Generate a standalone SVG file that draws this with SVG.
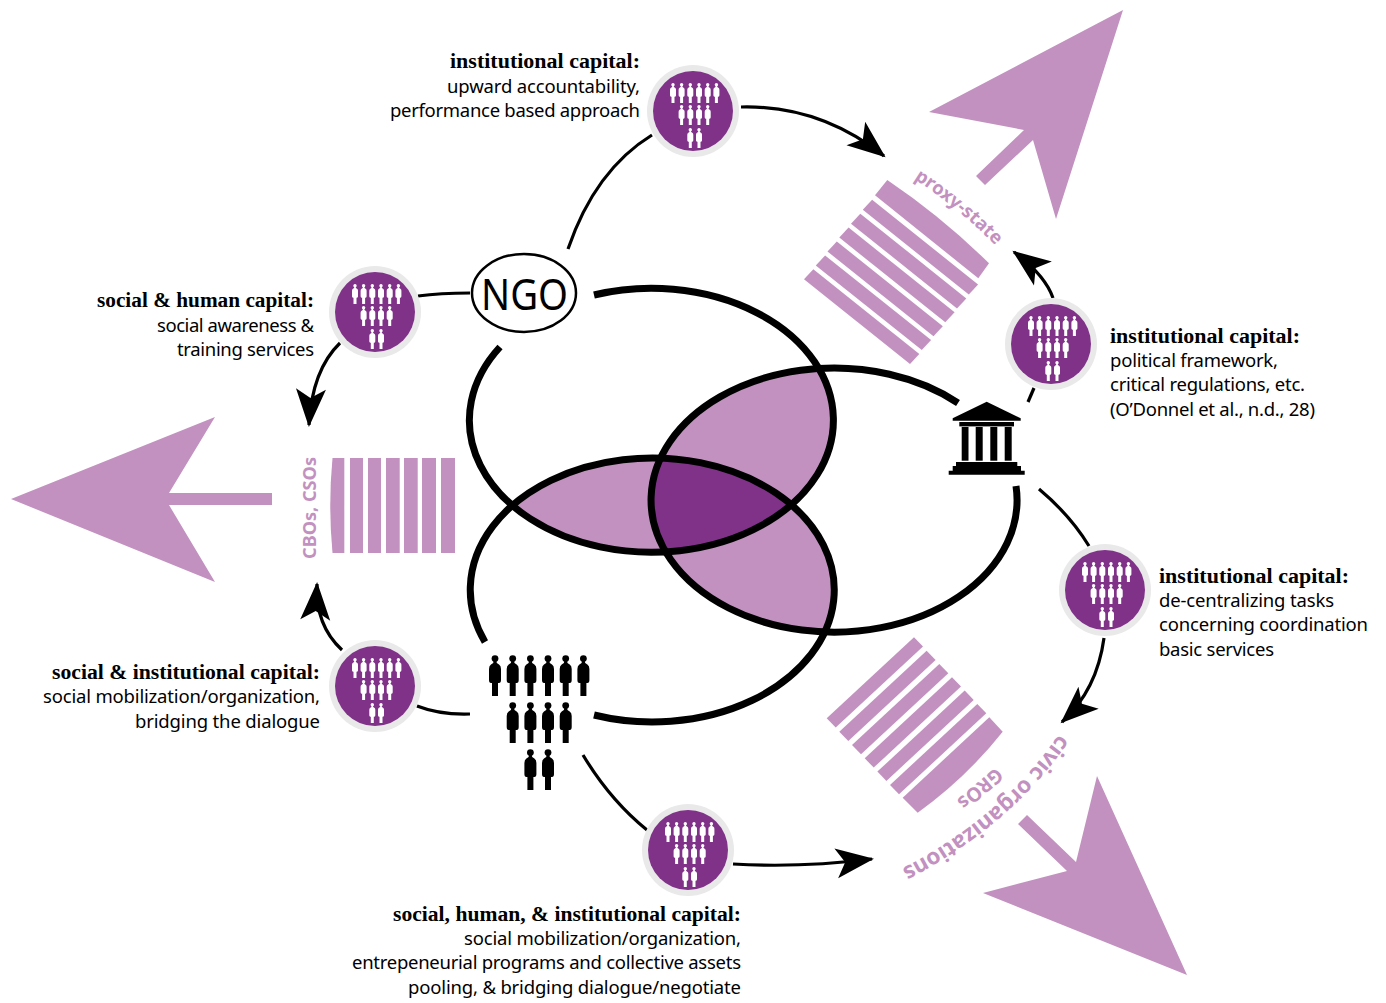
<svg xmlns="http://www.w3.org/2000/svg" width="1386" height="1003" viewBox="0 0 1386 1003">
<style>
.h{font-family:"Liberation Serif",serif;font-weight:700;font-size:20.5px;fill:#000}
.t{font-family:"Noto Sans",sans-serif;font-size:18.5px;fill:#000}
.lbl{font-family:"Noto Sans",sans-serif;font-weight:700;font-size:18.5px;fill:#c291c0}
.big{font-size:22.5px}
.mid{font-size:19.5px}
.pk{fill:#c291c0}
.ring{fill:none;stroke:#000;stroke-width:7}
.c{fill:none;stroke:#000;stroke-width:3.2}
.a{marker-end:url(#ah)}
</style>
<defs>
<marker id="ah" markerUnits="userSpaceOnUse" markerWidth="44" markerHeight="36" refX="38" refY="18" orient="auto"><path d="M2,3 L40,18 L2,33 L11,18Z" fill="#000"/></marker>
<g id="p"><circle cx="6" cy="3.6" r="3.4"/><path d="M4.6,6 H7.4 L7.8,8 L10,9.5 Q12,10.5 12,14 V25 Q12,28 10,28 H9 V41 H3 V28 H2 Q0,28 0,25 V14 Q0,10.5 2,9.5 L4.2,8Z"/></g>
<g id="sp"><use href="#p" transform="translate(.5,0) scale(.5,.49)"/></g>
<g id="badge">
<circle r="46" fill="#e9e9e9"/><circle r="40" fill="#7f3288"/>
<g fill="#fff" transform="translate(1.5,0)">
<use href="#sp" x="-25" y="-28"/><use href="#sp" x="-16.4" y="-28"/><use href="#sp" x="-7.7" y="-28"/><use href="#sp" x="1" y="-28"/><use href="#sp" x="9.7" y="-28"/><use href="#sp" x="18.4" y="-28"/>
<use href="#sp" x="-16.4" y="-6"/><use href="#sp" x="-7.7" y="-6"/><use href="#sp" x="1" y="-6"/><use href="#sp" x="9.7" y="-6"/>
<use href="#sp" x="-7.7" y="17"/><use href="#sp" x="1" y="17"/>
</g></g>
<clipPath id="e1"><ellipse cx="652" cy="420" rx="182" ry="132"/></clipPath>
<clipPath id="e2"><ellipse cx="652" cy="590" rx="182" ry="132"/></clipPath>
<path id="tp1" d="M914,179 Q958,207 1000,250"/>
<path id="tp2" d="M1059,734 Q1000,820 895,872"/>
</defs>

<g id="overlap">
<g clip-path="url(#e1)"><ellipse cx="834" cy="500" rx="183" ry="132" class="pk"/><ellipse cx="652" cy="590" rx="182" ry="132" class="pk"/></g>
<g clip-path="url(#e2)"><ellipse cx="834" cy="500" rx="183" ry="132" class="pk"/></g>
<g clip-path="url(#e1)"><g clip-path="url(#e2)"><ellipse cx="834" cy="500" rx="183" ry="132" fill="#7f3288"/></g></g>
</g>

<g id="connectors">
<path class="ring" d="M594,295 A182,132 0 1 1 500,347"/>
<path class="ring" d="M485,642 A182,132 0 1 1 594,715"/>
<path class="ring" d="M1016,486 A183,132 0 1 1 958,403"/>
<path class="c" d="M568,249 Q595,170 652,135"/>
<path class="c a" d="M741,107 Q820,105 884,156"/>
<path class="c" d="M418,296 Q440,293 470,293"/>
<path class="c a" d="M340,343 Q312,370 309,425"/>
<path class="c a" d="M342,650 Q315,625 317,584"/>
<path class="c" d="M470,714 Q440,715 417,706"/>
<path class="c" d="M583,755 Q610,800 647,830"/>
<path class="c a" d="M733,864 Q800,868 872,859"/>
<path class="c" d="M1028,402 L1034,388"/>
<path class="c a" d="M1053,298 Q1045,275 1014,252"/>
<path class="c" d="M1039,489 Q1070,515 1089,546"/>
<path class="c a" d="M1104,638 Q1097,690 1062,722"/>
</g>

<g id="ngo">
<ellipse cx="524" cy="293" rx="52" ry="39" fill="#fff" stroke="#000" stroke-width="2.5"/>
<text x="481" y="310" font-family="Noto Sans, sans-serif" font-size="44" textLength="87" lengthAdjust="spacingAndGlyphs" fill="#000">NGO</text>
</g>

<g id="community" fill="#000">
<use href="#p" x="489" y="655"/><use href="#p" x="506.7" y="655"/><use href="#p" x="524.4" y="655"/><use href="#p" x="542" y="655"/><use href="#p" x="559.7" y="655"/><use href="#p" x="577.4" y="655"/>
<use href="#p" x="506.7" y="702"/><use href="#p" x="524.4" y="702"/><use href="#p" x="542" y="702"/><use href="#p" x="559.7" y="702"/>
<use href="#p" x="524.4" y="749"/><use href="#p" x="542" y="749"/>
</g>

<g id="government" fill="#000">
<polygon points="986.7,401.7 1020.7,418.3 1020.7,420.7 952.7,420.7 952.7,418.3"/>
<rect x="959.3" y="422" width="54.7" height="4.4"/>
<rect x="961.7" y="427" width="6.8" height="33.7"/><rect x="975.7" y="427" width="7" height="33.7"/><rect x="990.3" y="427" width="7" height="33.7"/><rect x="1004.7" y="427" width="7" height="33.7"/>
<polygon points="956,462 1017.3,462 1017.3,466 1021,466 1021,470.7 1024.7,470.7 1024.7,474.7 948.7,474.7 948.7,470.7 952.7,470.7 952.7,466 956,466"/>
</g>

<g id="arrow-proxy" class="pk"><path d="M1123,10 L929,112 L1024,130 L976,176 L985,185 L1033,140 L1056,219Z"/></g>
<g id="arrow-cbo" class="pk"><path d="M11,499 L215,417 L169,493 H272 V505 H169 L215,582Z"/></g>
<g id="arrow-civic" class="pk"><path d="M1187,975 L1097,776 L1076,862 L1027,815 L1018,824 L1067,871 L983,893Z"/></g>

<g id="proxy-state" class="pk">
<polygon points="804,279.3 813.3,269.3 919.3,354 910,364"/>
<polygon points="815.8,265.4 825.1,255.4 931.1,340.1 921.8,350.1"/>
<polygon points="827.5,251.5 836.8,241.5 942.8,326.2 933.5,336.2"/>
<polygon points="839.3,237.6 848.6,227.6 954.6,312.3 945.3,322.3"/>
<polygon points="851,223.7 860.3,213.7 966.3,298.4 957,308.4"/>
<polygon points="862.8,209.8 872.1,199.8 978.1,284.5 968.8,294.5"/>
<path d="M875,195.3 L887.3,180 Q942,217 989,263.3 L978.3,278.3Z"/>
<text class="lbl"><textPath href="#tp1">proxy-state</textPath></text>
</g>

<g id="cbos" class="pk">
<path d="M332.5,458 H344.3 V553 H332.5 Q328,505 332.5,458Z"/>
<rect x="350" y="458" width="13" height="95"/><rect x="368" y="458" width="13" height="95"/><rect x="386" y="458" width="13.7" height="95"/><rect x="404" y="458" width="13.7" height="95"/><rect x="422" y="458" width="14" height="95"/><rect x="441" y="458" width="14" height="95"/>
<text class="lbl" transform="translate(316,559) rotate(-90)" textLength="102" lengthAdjust="spacingAndGlyphs">CBOs, CSOs</text>
</g>

<g id="civic" class="pk">
<polygon points="826.7,718.3 914,637.3 923,646.6 835.7,727.6"/>
<polygon points="839.3,731.7 926.6,650.7 935.6,660 848.3,741"/>
<polygon points="852,745 939.3,664 948.3,673.3 861,754.3"/>
<polygon points="864.7,758.3 952,677.3 961,686.6 873.7,767.6"/>
<polygon points="877.4,771.6 964.7,690.6 973.7,699.9 886.4,780.9"/>
<polygon points="890,785 977.3,704 986.3,713.3 899,794.3"/>
<path d="M902.7,797.7 L989.3,717.3 L1002.7,731.7 Q966,778 917.7,812.7Z"/>
<text class="lbl big"><textPath href="#tp2">civic organizations</textPath></text>
<text class="lbl mid" transform="translate(996,767) rotate(140)">GROs</text>
</g>

<g id="n-top"><use href="#badge" x="693" y="111"/>
<text class="h" x="450" y="68" textLength="190" lengthAdjust="spacingAndGlyphs">institutional capital:</text>
<text class="t" x="447" y="93" textLength="193">upward accountability,</text>
<text class="t" x="390" y="117" textLength="250">performance based approach</text></g>

<g id="n-left"><use href="#badge" x="375" y="312"/>
<text class="h" x="97" y="307" textLength="217" lengthAdjust="spacingAndGlyphs">social &amp; human capital:</text>
<text class="t" x="157" y="332" textLength="157">social awareness &amp;</text>
<text class="t" x="177" y="356" textLength="137">training services</text></g>

<g id="n-right"><use href="#badge" x="1051" y="344"/>
<text class="h" x="1110" y="343" textLength="190" lengthAdjust="spacingAndGlyphs">institutional capital:</text>
<text class="t" x="1110" y="367" textLength="168">political framework,</text>
<text class="t" x="1110" y="391" textLength="195">critical regulations, etc.</text>
<text class="t" x="1110" y="416" textLength="205">(O’Donnel et al., n.d., 28)</text></g>

<g id="n-lower-right"><use href="#badge" x="1105" y="590"/>
<text class="h" x="1159" y="583" textLength="190" lengthAdjust="spacingAndGlyphs">institutional capital:</text>
<text class="t" x="1159" y="607" textLength="175">de-centralizing tasks</text>
<text class="t" x="1159" y="631" textLength="209">concerning coordination</text>
<text class="t" x="1159" y="656" textLength="115">basic services</text></g>

<g id="n-lower-left"><use href="#badge" x="375" y="686"/>
<text class="h" x="52" y="679" textLength="268" lengthAdjust="spacingAndGlyphs">social &amp; institutional capital:</text>
<text class="t" x="43" y="703" textLength="277">social mobilization/organization,</text>
<text class="t" x="135" y="728" textLength="185">bridging the dialogue</text></g>

<g id="n-bottom"><use href="#badge" x="688" y="850"/>
<text class="h" x="393" y="921" textLength="348" lengthAdjust="spacingAndGlyphs">social, human, &amp; institutional capital:</text>
<text class="t" x="464" y="945" textLength="277">social mobilization/organization,</text>
<text class="t" x="352" y="969" textLength="389">entrepeneurial programs and collective assets</text>
<text class="t" x="408" y="994" textLength="333">pooling, &amp; bridging dialogue/negotiate</text></g>
</svg>
